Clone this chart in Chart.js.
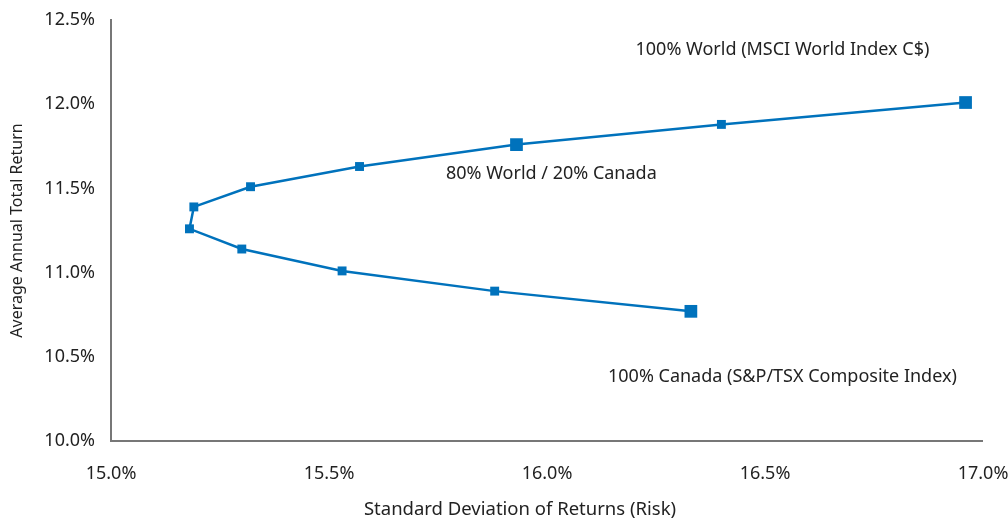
<!DOCTYPE html>
<html>
<head>
<meta charset="utf-8">
<script src="https://cdn.jsdelivr.net/npm/chart.js@4"></script>
<style>
  html, body { margin: 0; padding: 0; background: #fff; }
  #wrap { width: 1008px; height: 523px; }
</style>
</head>
<body>
<div id="wrap"><canvas id="frontier"></canvas></div>
<script>
// Risk / return of World-Canada portfolio mixes (100% Canada -> 100% World)
const riskPct   = [16.33, 15.88, 15.53, 15.30, 15.18, 15.19, 15.32, 15.57, 15.93, 16.40, 16.96];
const returnPct = [10.77, 10.89, 11.01, 11.14, 11.26, 11.39, 11.51, 11.63, 11.76, 11.88, 12.01];
const keyMix    = [true, false, false, false, false, false, false, false, true, false, true];

const xTicks = [15.0, 15.5, 16.0, 16.5, 17.0];
const yTicks = [10.0, 10.5, 11.0, 11.5, 12.0, 12.5];

const noteText = ['100% World (MSCI World Index C$)', '80% World / 20% Canada', '100% Canada (S&P/TSX Composite Index)'];
const noteX    = [16.54, 16.01, 16.54];
const noteY    = [12.32, 11.585, 10.38];

const xTitle = 'Standard Deviation of Returns (Risk)';

const blue = '#0072bc';
const axisGrey = '#777';
const font = '"Noto Sans", "Open Sans", sans-serif';

// in-plot labels (data coordinates) and the x axis title
const notesPlugin = {
  id: 'notes',
  afterDatasetsDraw(chart) {
    const { ctx, scales } = chart;
    ctx.save();
    ctx.font = '18px ' + font;
    ctx.fillStyle = '#222';
    ctx.textAlign = 'center';
    ctx.textBaseline = 'middle';
    noteText.forEach((t, i) => {
      ctx.fillText(t, scales.x.getPixelForValue(noteX[i]), scales.y.getPixelForValue(noteY[i]));
    });
    ctx.font = '18.5px ' + font;
    ctx.fillText(xTitle, 520, chart.height - 13);
    ctx.restore();
  }
};

new Chart(document.getElementById('frontier'), {
  type: 'scatter',
  data: {
    datasets: [{
      data: riskPct.map((r, i) => ({ x: r, y: returnPct[i] })),
      showLine: true,
      borderColor: blue,
      backgroundColor: blue,
      borderWidth: 2.5,
      pointStyle: 'rect',
      pointRadius: keyMix.map(k => k ? 9 : 6.3),
      pointBorderWidth: 0,
      pointBackgroundColor: blue,
      tension: 0,
      order: 0
    }, {
      // bottom axis line, first x tick to last
      data: [{ x: xTicks[0], y: yTicks[0] }, { x: xTicks[xTicks.length - 1], y: yTicks[0] }],
      showLine: true,
      borderColor: axisGrey,
      borderWidth: 2,
      pointRadius: 0,
      clip: false,
      order: 1
    }]
  },
  options: {
    responsive: true,
    maintainAspectRatio: false,
    animation: false,
    layout: { padding: { top: 20, right: 0, left: 0, bottom: 0 } },
    plugins: { legend: { display: false }, tooltip: { enabled: false } },
    scales: {
      x: {
        type: 'linear',
        min: 15, max: 17,
        afterBuildTicks: s => { s.ticks = xTicks.map(v => ({ value: v })); },
        afterFit: s => { s.height = 82; s.paddingLeft = 0; s.paddingRight = 25; },
        grid: { display: false, drawTicks: false },
        border: { display: false },
        ticks: {
          padding: 22,
          color: '#222',
          font: { family: font, size: 18 },
          maxRotation: 0,
          callback: v => v.toFixed(1) + '%'
        }
      },
      y: {
        type: 'linear',
        min: 10, max: 12.5,
        afterBuildTicks: s => { s.ticks = yTicks.map(v => ({ value: v })); },
        afterFit: s => { s.width = 111; s.paddingTop = 0; s.paddingBottom = 0; },
        grid: { display: false, drawTicks: false },
        border: { display: true, color: axisGrey, width: 2 },
        ticks: {
          padding: 16,
          color: '#222',
          font: { family: font, size: 18 },
          callback: v => v.toFixed(1) + '%'
        },
        title: {
          display: true,
          text: 'Average Annual Total Return',
          color: '#222',
          font: { family: font, size: 16 },
          padding: { top: 8, bottom: 0 }
        }
      }
    }
  },
  plugins: [notesPlugin]
});
</script>
</body>
</html>
